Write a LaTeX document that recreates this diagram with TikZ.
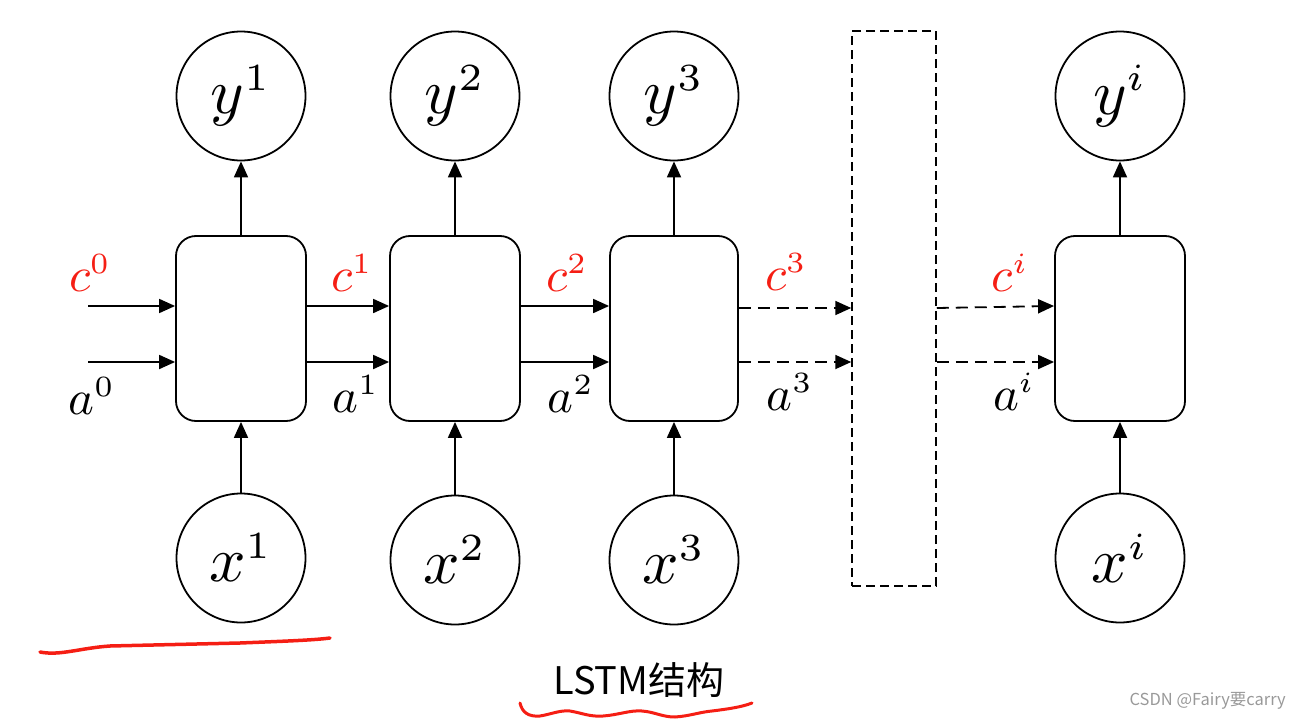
\documentclass[tikz,border=0pt]{standalone}
\usepackage{fontspec}
\usepackage{graphicx}
\newfontfamily\cjk{Noto Sans CJK SC}
\usetikzlibrary{arrows.meta,calc}
\DeclareMathSizes{10}{10}{6}{5}
\definecolor{inkred}{RGB}{245,30,20}
\newcommand{\biglab}[1]{\scalebox{6.4}{$#1$}}
\newcommand{\edgelab}[1]{\scalebox{4.9}{$#1$}}
\tikzset{
  circ/.style={draw,circle,line width=1.8pt,minimum size=129pt,inner sep=0pt},
  cell/.style={draw,rounded corners=20pt,line width=1.8pt,minimum width=130pt,minimum height=185pt,inner sep=0pt},
  arr/.style={line width=1.8pt,-{Triangle[length=16pt,width=14pt]}},
  darr/.style={arr,dash pattern=on 12pt off 7pt},
  lab/.style={inner sep=0pt},
  redlab/.style={lab,text=inkred},
  ink/.style={inkred,line cap=round,line join=round}
}
\begin{document}
\begin{tikzpicture}[x=1pt,y=-1pt]
\useasboundingbox (0,0) rectangle (1302,720);
% cells
\node[cell] (b1) at (241,328.5) {};
\node[cell] (b2) at (455,328.5) {};
\node[cell,minimum width=128pt] (b3) at (674,328.5) {};
\node[cell] (b4) at (1120,328.5) {};
\node[draw,line width=1.5pt,dash pattern=on 9pt off 5pt,minimum width=84pt,minimum height=555pt,inner sep=0pt] (dr) at (894,308.5) {};
% circles
\node[circ] (y1) at (241,96) {\biglab{y^{1}}};
\node[circ] (y2) at (455,96) {\biglab{y^{2}}};
\node[circ] (y3) at (674,96) {\biglab{y^{3}}};
\node[circ] (yi) at (1120,96) {\biglab{y^{i}}};
\node[circ] (x1) at (241,558) {\biglab{x^{1}}};
\node[circ] (x2) at (455,560) {\biglab{x^{2}}};
\node[circ] (x3) at (674,560) {\biglab{x^{3}}};
\node[circ] (xi) at (1120,558) {\biglab{x^{i}}};
% vertical arrows
\draw[arr] (b1.north) -- (y1.south);
\draw[arr] (b2.north) -- (y2.south);
\draw[arr] (b3.north) -- (y3.south);
\draw[arr] (b4.north) -- (yi.south);
\draw[arr] (x1.north) -- (b1.south);
\draw[arr] (x2.north) -- (b2.south);
\draw[arr] (x3.north) -- (b3.south);
\draw[arr] (xi.north) -- (b4.south);
% horizontal
\coordinate (c0s) at (88,306);
\coordinate (a0s) at (88,362);
\draw[arr] (c0s) -- (c0s -| b1.west);
\draw[arr] (a0s) -- (a0s -| b1.west);
\draw[arr] (c0s -| b1.east) -- (c0s -| b2.west);
\draw[arr] (a0s -| b1.east) -- (a0s -| b2.west);
\draw[arr] (c0s -| b2.east) -- (c0s -| b3.west);
\draw[arr] (a0s -| b2.east) -- (a0s -| b3.west);
\draw[darr] ($(b3.east |- c0s)+(0,2)$) -- ($(dr.west |- c0s)+(0,2)$);
\draw[darr] (a0s -| b3.east) -- (a0s -| dr.west);
\draw[darr] ($(dr.east |- c0s)+(0,2)$) -- (c0s -| b4.west);
\draw[darr] (a0s -| dr.east) -- (a0s -| b4.west);
% labels
\node[redlab] (lc0) at (90,273) {\edgelab{c^{0}}};
\node[lab] (la0) at (92,396) {\edgelab{a^{0}}};
\node[redlab] (lc1) at (352,273) {\edgelab{c^{1}}};
\node[lab] (la1) at (356,394) {\edgelab{a^{1}}};
\node[redlab] (lc2) at (567,273) {\edgelab{c^{2}}};
\node[lab] (la2) at (571,394) {\edgelab{a^{2}}};
\node[redlab] (lc3) at (786,272) {\edgelab{c^{3}}};
\node[lab] (la3) at (790,392) {\edgelab{a^{3}}};
\node[redlab] (lci) at (1010,273) {\edgelab{c^{i}}};
\node[lab] (lai) at (1014,392) {\edgelab{a^{i}}};
% caption
\node[inner sep=0pt,font=\cjk\fontsize{38}{44}\selectfont] (cap) at (639,680) {LSTM结构};
\node[inner sep=0pt,anchor=east,text=black!40,font=\cjk\fontsize{16.5}{20}\selectfont] (wm) at (1286,701) {CSDN @Fairy要carry};
% red ink
\draw[ink,line width=3.5pt] (40,652) .. controls (60,656) and (80,648) .. (110,646) -- (240,643) .. controls (290,641) and (315,640) .. (330,638);
\draw[ink,line width=3pt] (520,703) .. controls (522,712) and (528,717) .. (540,716)
  .. controls (552,714) and (560,710) .. (570,711)
  .. controls (582,713) and (590,717) .. (603,716)
  .. controls (618,715) and (630,710) .. (642,711)
  .. controls (655,712) and (662,717) .. (675,717)
  .. controls (690,716) and (700,712) .. (712,711)
  .. controls (728,709) and (742,707) .. (752,703);
\end{tikzpicture}
\end{document}
